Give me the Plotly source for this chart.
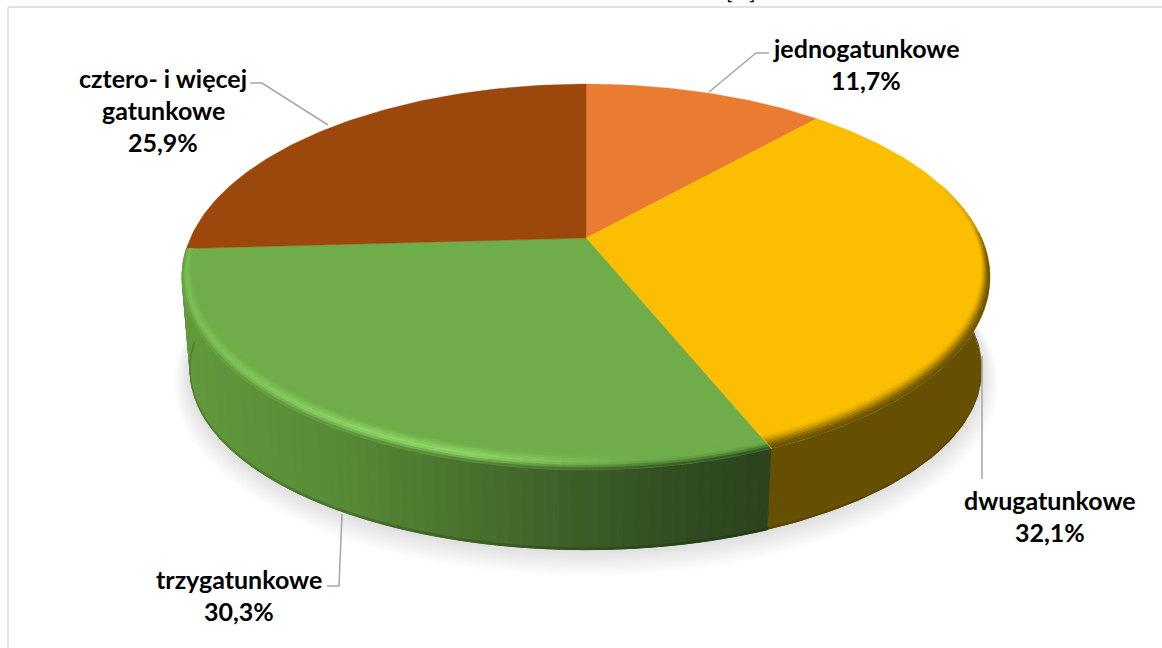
import math
import plotly.graph_objects as go

# Udział drzewostanów według liczby gatunków
categories = ["jednogatunkowe", "dwugatunkowe", "trzygatunkowe", "cztero- i więcej gatunkowe"]
shares = [11.7, 32.1, 30.3, 25.9]
label_lines = [["jednogatunkowe"], ["dwugatunkowe"], ["trzygatunkowe"], ["cztero- i więcej", "gatunkowe"]]
label_centres = [(866, 48), (1050, 500), (239, 579), (163, 78)]
label_line_step = 32

top_colours = ["#E97C30", "#FBBE00", "#6EAD49", "#9C470C"]
YELLOW_SIDE = (102, 79, 0)
GREEN_STOPS = [(185, (97, 153, 60)), (340, (87, 138, 54)), (450, (75, 117, 46)),
               (590, (58, 92, 38)), (700, (47, 74, 32)), (770, (43, 67, 30))]

leader_lines = [
    ([769, 756, 709], [53, 53, 92]),
    ([982, 982], [479, 356]),
    ([327, 339, 342], [586, 586, 514]),
    ([250, 262, 328], [83, 83, 125]),
]

# Rzut perspektywiczny tarczy kołowej na płaszczyznę strony
CX, CY = 586.0, 238.0
K = 0.202
A = 395.6
B = 185.0
BOTTOM_CY = 334.0
BOTTOM_SX = 0.98
BOTTOM_SY = 0.93


def top_point(theta_deg, r=1.0):
    t = math.radians(theta_deg)
    u, v = r * math.sin(t), r * math.cos(t)
    w = 1 + K * v
    return CX + A * u / w, CY - B * v / w


def bottom_point(theta_deg, grow_x=0.0, grow_y=0.0, shift=0.0):
    x, y = top_point(theta_deg)
    return (CX + (x - CX) * BOTTOM_SX * (1 + grow_x),
            BOTTOM_CY + shift + (y - CY) * BOTTOM_SY * (1 + grow_y))


def lerp(c1, c2, t):
    return tuple(a + (b - a) * t for a, b in zip(c1, c2))


def css(c):
    return "rgb(%d,%d,%d)" % tuple(round(v) for v in c)


def hex_rgb(h):
    return tuple(int(h[i:i + 2], 16) for i in (1, 3, 5))


def green_side(x):
    if x <= GREEN_STOPS[0][0]:
        return GREEN_STOPS[0][1]
    for (x0, c0), (x1, c1) in zip(GREEN_STOPS, GREEN_STOPS[1:]):
        if x <= x1:
            return lerp(c0, c1, (x - x0) / (x1 - x0))
    return GREEN_STOPS[-1][1]


fig = go.Figure()


def polygon(points, fill, edge_width=0.7):
    xs = [p[0] for p in points] + [points[0][0]]
    ys = [p[1] for p in points] + [points[0][1]]
    line = dict(color=fill, width=edge_width) if edge_width else dict(width=0)
    fig.add_trace(go.Scatter(
        x=xs, y=ys, mode="lines", fill="toself", fillcolor=fill, line=line,
        hoverinfo="skip", showlegend=False))


# Granice wycinków wyznaczone z udziałów procentowych
total = sum(shares)
bounds = [0.0]
for s in shares:
    bounds.append(bounds[-1] + s / total * 360.0)

STEP = 1.5


def slice_of(theta):
    for i in range(len(shares)):
        if bounds[i] <= theta < bounds[i + 1]:
            return i
    return len(shares) - 1


# Miękki cień pod wykresem
LAYERS = 16
for i in range(LAYERS):
    d = 1 - i / LAYERS
    gx, gy, sh = 0.042 * d, 0.075 * d, 11 * d
    pts = [bottom_point(a, gx, gy, sh) for a in range(40, 321, 2)]
    polygon(pts, "rgba(0,0,0,0.0085)", edge_width=0)

# Boczna ściana: wycinek żółty jako jedna płaszczyzna, zielony z gradientem
yellow_angles = [90 + i for i in range(int(bounds[2] - 90) + 1)] + [bounds[2]]
polygon([top_point(a) for a in yellow_angles] + [bottom_point(a) for a in reversed(yellow_angles)],
        css(YELLOW_SIDE), edge_width=0)
z = 0.975
yellow_low = [(top_point(a)[0] + (bottom_point(a)[0] - top_point(a)[0]) * z,
               top_point(a)[1] + (bottom_point(a)[1] - top_point(a)[1]) * z) for a in yellow_angles]
polygon(yellow_low + [bottom_point(a) for a in reversed(yellow_angles)],
        css(lerp(YELLOW_SIDE, (20, 15, 0), 0.18)), edge_width=0)

green_angles = [bounds[2] + i * STEP for i in range(int((bounds[3] - bounds[2]) / STEP) + 1)] + [bounds[3]]
for a, b in zip(green_angles, green_angles[1:]):
    t0, t1 = top_point(a), top_point(b)
    b0, b1 = bottom_point(a), bottom_point(b)
    base = green_side((t0[0] + t1[0]) / 2)
    polygon([t0, t1, b1, b0], css(base), edge_width=1.0)
    # ciemniejszy pasek przy dolnej krawędzi
    m0 = (t0[0] + (b0[0] - t0[0]) * z, t0[1] + (b0[1] - t0[1]) * z)
    m1 = (t1[0] + (b1[0] - t1[0]) * z, t1[1] + (b1[1] - t1[1]) * z)
    polygon([m0, m1, b1, b0], css(lerp(base, (20, 30, 10), 0.22)), edge_width=0.8)

# Górna powierzchnia wycinków
for i, colour in enumerate(top_colours):
    n = max(2, int((bounds[i + 1] - bounds[i]) / 1.0))
    arc = [top_point(bounds[i] + (bounds[i + 1] - bounds[i]) * j / n) for j in range(n + 1)]
    polygon([(CX, CY)] + arc, colour, edge_width=0.4)


# Zaokrąglona krawędź górnej powierzchni
def bevel_colour(idx, t, x, side):
    flat = hex_rgb(top_colours[idx])
    if idx == 1:
        s = t * t * (3 - 2 * t)
        return lerp(flat, side, s)
    h = max(0.0, min(1.0, (640 - x) / 170))
    h *= 0.45 + 0.55 * min(1.0, max(0.0, (x - 190) / 170))
    peak = lerp(flat, (146, 218, 104), h)
    if t < 0.55:
        return lerp(flat, peak, t / 0.55)
    return lerp(peak, side, ((t - 0.55) / 0.45) ** 1.3)


BEVEL_LAYERS = 7
for a0 in [72 + i * STEP for i in range(int(195.0 / STEP))]:
    a1 = a0 + STEP
    mid = (a0 + a1) / 2
    idx = slice_of(mid)
    if idx not in (1, 2):
        continue
    # wspólna granica wycinków nie może zachodzić na sąsiada
    a0c, a1c = max(a0, bounds[idx]), min(a1, bounds[idx + 1])
    v = math.cos(math.radians(mid))
    fade = min(1.0, (mid - 72) / 26) if idx == 1 else 1.0
    width = 0.015 + 0.042 * max(0.0, -v)
    x_mid = top_point(mid)[0]
    side = lerp(hex_rgb(top_colours[1]), YELLOW_SIDE, fade) if idx == 1 else green_side(x_mid)
    for j in range(BEVEL_LAYERS):
        r0 = 1 - width * (1 - j / BEVEL_LAYERS)
        r1 = 1 - width * (1 - (j + 1) / BEVEL_LAYERS)
        col = bevel_colour(idx, (j + 0.5) / BEVEL_LAYERS, x_mid, side)
        polygon([top_point(a0c, r0), top_point(a1c, r0), top_point(a1c, r1), top_point(a0c, r1)],
                css(col), edge_width=0.4)

# Linie odniesienia
for xs, ys in leader_lines:
    fig.add_trace(go.Scatter(x=xs, y=ys, mode="lines", line=dict(color="#A6A6A6", width=1.5),
                             hoverinfo="skip", showlegend=False))

# Etykiety danych
annotations = []
FONT = "Lato, Carlito, sans-serif"
for lines, share, (lx, ly) in zip(label_lines, shares, label_centres):
    texts = lines + [f"{share:.1f}%".replace(".", ",")]
    for k, text in enumerate(texts):
        annotations.append(dict(
            x=lx, y=ly + k * label_line_step, xref="x", yref="y", text=f"<b>{text}</b>",
            showarrow=False, xanchor="center", yanchor="middle",
            font=dict(family=FONT, size=25, color="#000000")))
annotations.append(dict(x=741, y=5, xref="x", yref="y", text="[%]", showarrow=False,
                        xanchor="center", yanchor="bottom",
                        font=dict(family=FONT, size=21, color="#0D0D0D")))

# Ramka obszaru wykresu
frame = [
    dict(type="line", xref="x", yref="y", x0=8, x1=8, y0=7, y1=648, line=dict(color="#D9D9D9", width=1.5)),
    dict(type="line", xref="x", yref="y", x0=8, x1=1162, y0=7, y1=7, line=dict(color="#D9D9D9", width=1.5)),
]

fig.update_layout(
    width=1162, height=648, margin=dict(l=0, r=0, t=0, b=0),
    paper_bgcolor="white", plot_bgcolor="white",
    xaxis=dict(range=[0, 1162], visible=False, fixedrange=True),
    yaxis=dict(range=[648, 0], visible=False, fixedrange=True),
    annotations=annotations, shapes=frame, showlegend=False,
)

fig.write_html("out.html")
